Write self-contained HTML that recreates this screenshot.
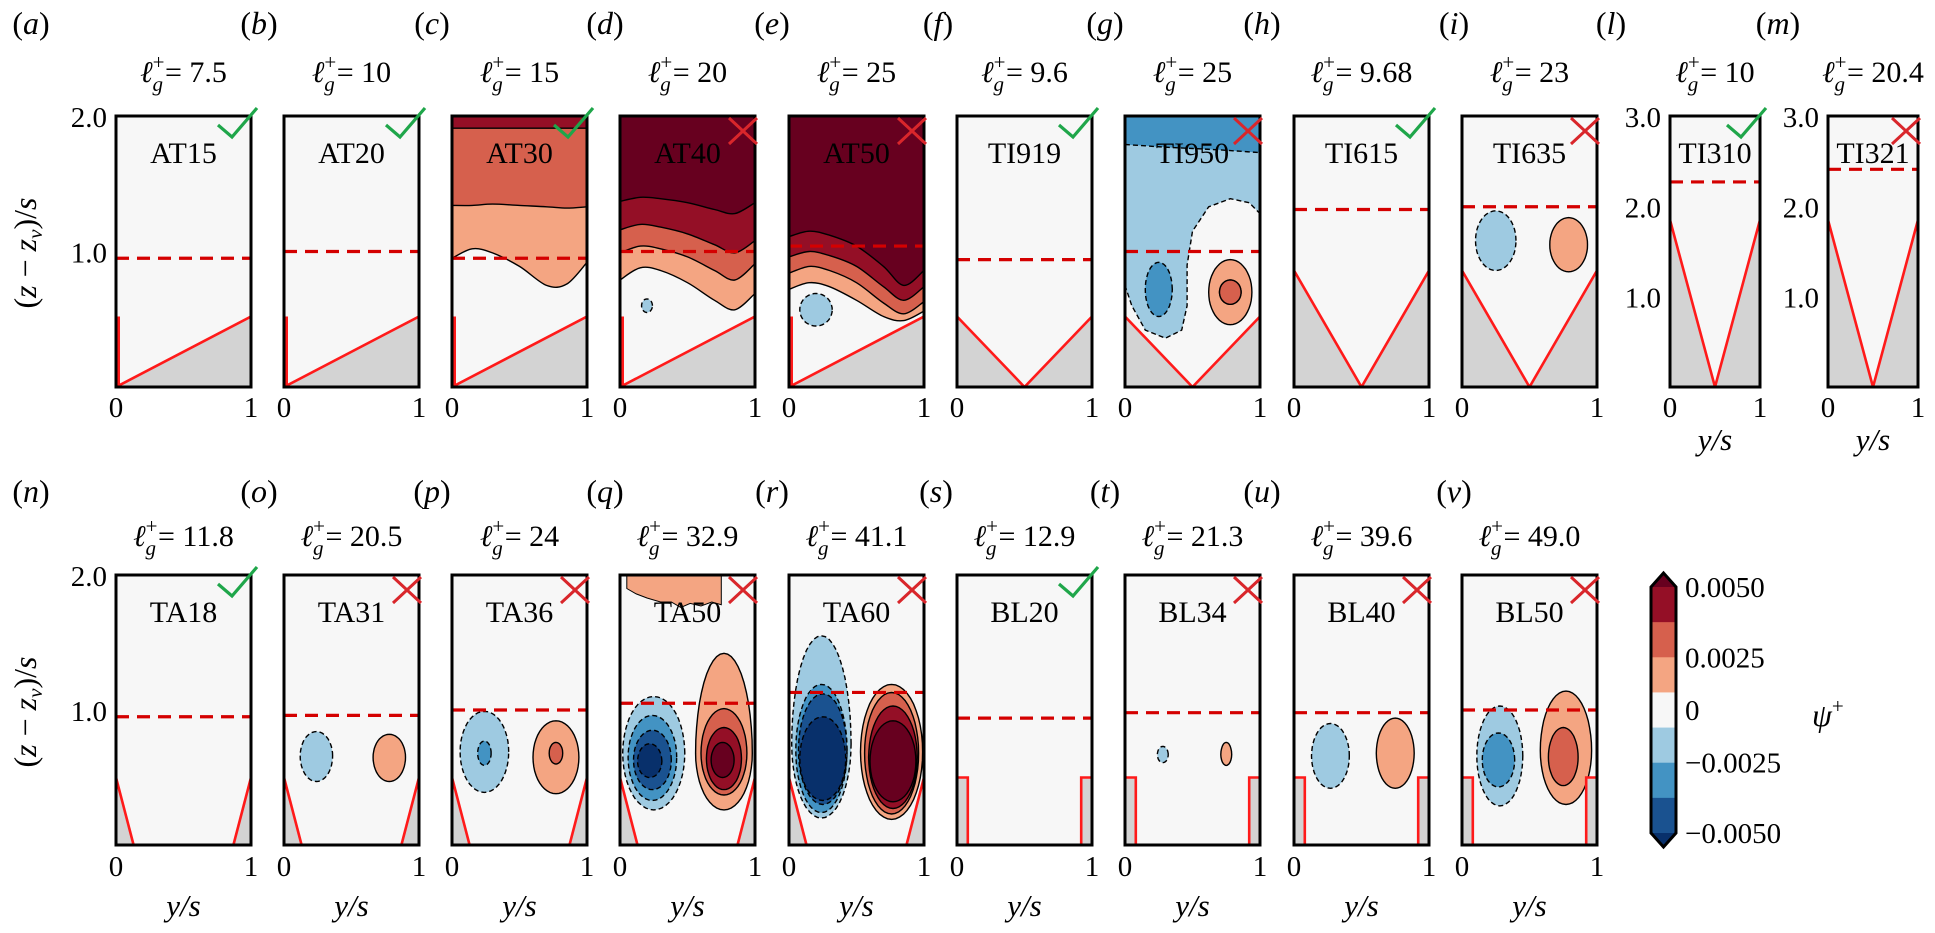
<!DOCTYPE html>
<html><head><meta charset="utf-8"><style>
html,body{margin:0;padding:0;background:#fff;}
svg, svg text, svg tspan{font-family:"Liberation Serif","Times New Roman","DejaVu Serif",serif;}
</style></head><body>
<svg id="fig" xmlns="http://www.w3.org/2000/svg" width="1935" height="928" viewBox="0 0 1935 928" font-family="Liberation Serif, serif"></svg>
<script>
// ---------- data ----------
const panelNames = ['AT15','AT20','AT30','AT40','AT50','TI919','TI950','TI615','TI635','TI310','TI321','TA18','TA31','TA36','TA50','TA60','BL20','BL34','BL40','BL50'];
const panelLetters = ['a','b','c','d','e','f','g','h','i','l','m','n','o','p','q','r','s','t','u','v'];
const lgValues = ['7.5','10','15','20','25','9.6','25','9.68','23','10','20.4','11.8','20.5','24','32.9','41.1','12.9','21.3','39.6','49.0'];
const verdicts = [1,1,1,0,0,1,0,1,0,1,0,1,0,0,0,0,1,0,0,0];
const dashLevels = [0.95,1.0,0.95,1.0,1.04,0.94,1.0,1.31,1.33,2.27,2.41,0.95,0.96,1.0,1.05,1.13,0.94,0.98,0.98,1.0];
const yMaxes = [2,2,2,2,2,2,2,2,2,3,3,2,2,2,2,2,2,2,2,2];
const yTicksMain = [1.0,2.0];
const yTicksTall = [1.0,2.0,3.0];
const geomTypes = ['AT','AT','AT','AT','AT','TI','TI','TI','TI','TI','TI','TA','TA','TA','TA','TA','BL','BL','BL','BL'];
const geomHeights = [0.52,0.52,0.52,0.52,0.52,0.52,0.52,0.86,0.86,1.85,1.85,0.5,0.5,0.5,0.5,0.5,0.5,0.5,0.5,0.5];
// wave-shaped contour bands (top-attached regions)
const waveX = [0,0.15,0.3,0.5,0.7,0.85,1];
const bandPanel = [2,2,2, 3,3,3,3, 4,4,4,4, 6];
const bandLevel = [1,2,3, 1,2,3,4, 1,2,3,4, -2];
const bandYs = [
 [0.95,1.02,0.99,0.89,0.75,0.76,0.92],
 [1.34,1.34,1.35,1.34,1.33,1.32,1.33],
 [1.91,1.91,1.91,1.91,1.91,1.91,1.91],
 [0.79,0.88,0.86,0.77,0.64,0.57,0.69],
 [0.99,1.04,1.02,0.96,0.86,0.79,0.91],
 [1.16,1.20,1.18,1.13,1.05,0.99,1.08],
 [1.37,1.40,1.39,1.36,1.31,1.28,1.36],
 [0.72,0.77,0.74,0.64,0.52,0.49,0.56],
 [0.84,0.89,0.86,0.77,0.62,0.54,0.63],
 [0.96,1.00,0.97,0.89,0.74,0.64,0.74],
 [1.11,1.15,1.12,1.04,0.89,0.75,0.86],
 [1.79,1.78,1.77,1.76,1.75,1.74,1.73]
];
// irregular light-blue region in TI950
const g950X = [0,1,1,0.92,0.78,0.62,0.5,0.46,0.46,0.42,0.3,0.15,0.05,0];
const g950Y = [2,2,1.28,1.36,1.39,1.33,1.15,0.9,0.6,0.42,0.36,0.42,0.6,0.75];
// noisy orange region at top of TA50
const q50X = [0.05,0.75,0.75,0.68,0.6,0.52,0.45,0.38,0.3,0.2,0.12,0.05];
const q50Y = [2,2,1.78,1.8,1.77,1.79,1.76,1.8,1.8,1.83,1.86,1.9];
// closed vortex blobs
const blobPanel = [3,4,6,6,6,6,8,8,12,12,13,13,13,13,14,14,14,14,14,14,14,14,15,15,15,15,15,15,15,15,17,17,18,18,19,19,19,19];
const blobLevel = [-1,-1,-2,1,2,2,-1,1,-1,1,-1,-2,1,2,-1,-2,-3,-4,1,2,3,4,-1,-2,-3,-4,1,2,3,4,-1,1,-1,1,-1,-2,1,2];
const blobCx = [0.2,0.2,0.25,0.78,0.78,0.78,0.25,0.79,0.24,0.78,0.24,0.24,0.77,0.77,0.25,0.24,0.24,0.22,0.77,0.77,0.77,0.76,0.24,0.24,0.25,0.25,0.76,0.76,0.77,0.77,0.28,0.75,0.27,0.75,0.28,0.27,0.77,0.75];
const blobCy = [0.6,0.57,0.72,0.7,0.7,0.7,1.08,1.05,0.66,0.65,0.69,0.68,0.65,0.68,0.68,0.65,0.63,0.62,0.68,0.68,0.64,0.63,0.75,0.7,0.7,0.64,0.69,0.68,0.65,0.62,0.67,0.67,0.66,0.68,0.66,0.63,0.7,0.65];
const blobRx = [0.04,0.12,0.1,0.16,0.08,0.08,0.15,0.14,0.12,0.12,0.18,0.05,0.17,0.05,0.23,0.18,0.14,0.09,0.21,0.17,0.13,0.085,0.22,0.19,0.18,0.17,0.23,0.2,0.18,0.17,0.04,0.04,0.14,0.14,0.17,0.12,0.19,0.11];
const blobRyT = [0.05,0.12,0.2,0.24,0.09,0.09,0.22,0.2,0.18,0.17,0.3,0.09,0.27,0.08,0.42,0.31,0.22,0.13,0.74,0.33,0.23,0.13,0.8,0.49,0.42,0.31,0.5,0.45,0.38,0.3,0.06,0.09,0.24,0.26,0.37,0.2,0.44,0.22];
const blobRyB = [0.05,0.12,0.2,0.24,0.09,0.09,0.22,0.2,0.19,0.18,0.3,0.09,0.27,0.08,0.42,0.32,0.22,0.12,0.42,0.31,0.23,0.13,0.55,0.46,0.4,0.31,0.5,0.45,0.38,0.3,0.06,0.08,0.24,0.26,0.37,0.2,0.4,0.21];
// colorbar
const cbColors = ['#940f26','#d6604d','#f4a582','#f7f7f7','#9ecae1','#4393c3','#1a5290'];
const cbTickLabels = ['0.0050','0.0025','0','\u22120.0025','\u22120.0050'];
const cbTickPos = [0,2,3.5,5,7];

// ---------- layout ----------
const lefts = [116,284,452,620,789,957,1125,1294,1462,1670,1828,116,284,452,620,789,957,1125,1294,1462];
const widths = lefts.map((_,i)=> (i===9||i===10)?90:135);
const tops = lefts.map((_,i)=> i<11?116:575);
const bottoms = lefts.map((_,i)=> i<11?387:845);
const letterX = [31,259,432,605,772,938,1105,1262,1454,1611,1778,31,259,432,605,772,936,1105,1262,1454];
const posColors = ['#f4a582','#d6604d','#940f26','#67001f'];
const negColors = ['#9ecae1','#4393c3','#1a5290','#08306b'];
const NS='http://www.w3.org/2000/svg';
const FONT='"Liberation Serif","Times New Roman",serif';
const svg=document.getElementById('fig');
function mk(tag,attrs,parent){const e=document.createElementNS(NS,tag);for(const k in attrs)e.setAttribute(k,attrs[k]);if(tag==='text')e.style.fontFamily=FONT;(parent||svg).appendChild(e);return e;}
function px(i,x){return lefts[i]+x*widths[i];}
function py(i,y){return bottoms[i]-y/yMaxes[i]*(bottoms[i]-tops[i]);}
function lvColor(l){return l>0?posColors[l-1]:negColors[-l-1];}
function ptsStr(i,xs,ys){return xs.map((x,k)=>px(i,x).toFixed(1)+','+py(i,ys[k]).toFixed(1)).join(' ');}
function smoothPath(i,xs,ys){ // catmull-rom through points
  const P=xs.map((x,k)=>[px(i,x),py(i,ys[k])]);let d='M'+P[0][0].toFixed(1)+' '+P[0][1].toFixed(1);
  for(let k=0;k<P.length-1;k++){const p0=P[Math.max(k-1,0)],p1=P[k],p2=P[k+1],p3=P[Math.min(k+2,P.length-1)];
    const c1=[p1[0]+(p2[0]-p0[0])/6,p1[1]+(p2[1]-p0[1])/6],c2=[p2[0]-(p3[0]-p1[0])/6,p2[1]-(p3[1]-p1[1])/6];
    d+='C'+c1[0].toFixed(1)+' '+c1[1].toFixed(1)+' '+c2[0].toFixed(1)+' '+c2[1].toFixed(1)+' '+p2[0].toFixed(1)+' '+p2[1].toFixed(1);}
  return d;}

for(let i=0;i<panelNames.length;i++){
  const L=lefts[i],W=widths[i],T=tops[i],B=bottoms[i],R=L+W;
  const g=mk('g',{});
  
  
  const cp=mk('clipPath',{id:'cp'+i},g);
  mk('rect',{x:L,y:T,width:W,height:B-T},cp);
  const inner=mk('g',{'clip-path':'url(#cp'+i+')'},g);
  const bg=mk('rect',{x:L,y:T,width:W,height:B-T,fill:'#f7f7f7'},inner);
  
  
  const bIdx=[];for(let k=0;k<bandPanel.length;k++)if(bandPanel[k]===i)bIdx.push(k);
  bIdx.sort((a,b)=>Math.abs(bandLevel[a])-Math.abs(bandLevel[b]));
  for(const k of bIdx){
    if(i===6){
      const sh=mk('polygon',{points:ptsStr(i,g950X,g950Y),fill:'#9ecae1',stroke:'#000','stroke-width':1.4,'stroke-dasharray':'5 3','stroke-linejoin':'round'},inner);
      
      
    }
    const curve=smoothPath(i,waveX,bandYs[k]);
    const top=py(i,yMaxes[i]);
    const p=mk('path',{d:curve+'L'+R+' '+top+'L'+L+' '+top+'Z',fill:lvColor(bandLevel[k])},inner);
    
    
    const ln=mk('path',{d:curve,fill:'none',stroke:'#000','stroke-width':1.4,'stroke-dasharray':bandLevel[k]<0?'5 3':'none'},inner);
    
    
  }
  if(i===14){
    const q=mk('polygon',{points:ptsStr(i,q50X,q50Y),fill:'#f4a582',stroke:'#000','stroke-width':1},inner);
    
    
  }
  for(let k=0;k<blobPanel.length;k++){
    if(blobPanel[k]!==i)continue;
    let d='';
    for(let s=0;s<=48;s++){const t=s/48*2*Math.PI;const sn=Math.sin(t);
      const x=blobCx[k]+blobRx[k]*Math.cos(t);const y=blobCy[k]+(sn>0?blobRyT[k]:blobRyB[k])*sn;
      d+=(s?'L':'M')+px(i,x).toFixed(1)+' '+py(i,y).toFixed(1);}
    const b=mk('path',{d:d+'Z',fill:lvColor(blobLevel[k]),stroke:'#000','stroke-width':1.4,'stroke-dasharray':blobLevel[k]<0?'5 3':'none'},inner);
    
    
  }
  const h=geomHeights[i],gt=geomTypes[i];
  let grays=[],reds=[];
  if(gt==='AT'){grays=[[[0,1,1],[0,0,h]]];reds=[[[0,1],[0,h]],[[0.02,0.02],[0,h]]];}
  else if(gt==='TI'){grays=[[[0,0.5,0],[0,0,h]],[[0.5,1,1],[0,0,h]]];reds=[[[0,0.5,1],[h,0,h]]];}
  else if(gt==='TA'){grays=[[[0,0.13,0],[0,0,h]],[[0.87,1,1],[0,0,h]]];reds=[[[0,0.13],[h,0]],[[0.87,1],[0,h]]];}
  else {grays=[[[0,0.08,0.08,0],[0,0,h,h]],[[0.92,1,1,0.92],[0,0,h,h]]];reds=[[[0,0.08,0.08],[h,h,0]],[[1,0.92,0.92],[h,h,0]]];}
  for(const gp of grays){const e=mk('polygon',{points:ptsStr(i,gp[0],gp[1]),fill:'#d3d3d3'},inner);
    
    }
  for(const rp of reds){const e=mk('polyline',{points:ptsStr(i,rp[0],rp[1]),fill:'none',stroke:'#ff1a1a','stroke-width':2.6},inner);
    
    }
  const dl=mk('line',{x1:L,x2:R,y1:py(i,dashLevels[i]),y2:py(i,dashLevels[i]),stroke:'#d40000','stroke-width':3.2,'stroke-dasharray':'13 8'},inner);
  
  
  const nt=mk('text',{x:(L+R)/2,y:T+47,'text-anchor':'middle','font-size':30},g);
  nt.textContent=panelNames[i];
  
  
  const fr=mk('rect',{x:L,y:T,width:W,height:B-T,fill:'none',stroke:'#000','stroke-width':3},g);
  
  
  if(verdicts[i]){const c=mk('polyline',{points:(R-33)+','+(T+9)+' '+(R-19)+','+(T+21)+' '+(R+6)+','+(T-8),fill:'none',stroke:'#1fa64a','stroke-width':3.2},g);
    
    }
  else{const c=mk('path',{d:'M'+(R-26)+' '+(T+2)+'L'+(R+2)+' '+(T+28)+'M'+(R-26)+' '+(T+28)+'L'+(R+2)+' '+(T+2),fill:'none',stroke:'#d9262b','stroke-width':3},g);
    
    }
  const top=i<11;
  const lt=mk('text',{x:letterX[i],y:top?34:502,'text-anchor':'middle','font-size':32},g);
  lt.innerHTML='(<tspan font-style="italic">'+panelLetters[i]+'</tspan>)';
  
  
  const tb=top?82:546;
  const tt=mk('text',{x:(L+R)/2,y:tb,'text-anchor':'middle','font-size':30},g);
  tt.innerHTML='<tspan font-style="italic">\u2113</tspan><tspan font-size="21" dy="-13">+</tspan><tspan font-size="21" font-style="italic" dx="-12" dy="22">g</tspan><tspan dy="-9" dx="2">= '+lgValues[i]+'</tspan>';
  
  
  const xb=top?417:876;
  for(const v of [0,1]){const xt=mk('text',{x:px(i,v),y:xb,'text-anchor':'middle','font-size':29},g);
    xt.textContent=String(v);
    
    }
  if(!top||i===9||i===10){const xl=mk('text',{x:(L+R)/2,y:top?450:916,'text-anchor':'middle','font-size':31,'font-style':'italic'},g);
    xl.textContent='y/s';
    
    }
  if(i===0||i===11||i===9||i===10){
    const ticks=(i===9||i===10)?yTicksTall:yTicksMain;
    for(const v of ticks){const yt=mk('text',{x:L-9,y:py(i,v)+11,'text-anchor':'end','font-size':29},g);
      yt.textContent=v.toFixed(1);
      
      }
  }
}
for(const cy of [253,712]){
  const yl=mk('text',{x:0,y:0,'text-anchor':'middle','font-size':32,transform:'translate(36,'+cy+') rotate(-90)'});
  yl.innerHTML='(<tspan font-style="italic">z</tspan> \u2212 <tspan font-style="italic">z</tspan><tspan font-style="italic" font-size="21" dy="6">v</tspan><tspan dy="-6">)/</tspan><tspan font-style="italic">s</tspan>';
  
  
}
const cbX=1651,cbW=25,cbTop=587,cbBot=833,cbStep=(cbBot-cbTop)/cbColors.length;
const cb=mk('g',{});


cbColors.forEach((c,k)=>{const r=mk('rect',{x:cbX,y:cbTop+k*cbStep,width:cbW,height:cbStep+0.5,fill:c},cb);
  
  });
const t1=mk('polygon',{points:cbX+','+cbTop+' '+(cbX+cbW/2)+','+(cbTop-14)+' '+(cbX+cbW)+','+cbTop,fill:'#67001f'},cb);


const t2=mk('polygon',{points:cbX+','+cbBot+' '+(cbX+cbW/2)+','+(cbBot+14)+' '+(cbX+cbW)+','+cbBot,fill:'#08306b'},cb);


const cbo=mk('polygon',{points:cbX+','+cbTop+' '+(cbX+cbW/2)+','+(cbTop-14)+' '+(cbX+cbW)+','+cbTop+' '+(cbX+cbW)+','+cbBot+' '+(cbX+cbW/2)+','+(cbBot+14)+' '+cbX+','+cbBot,fill:'none',stroke:'#000','stroke-width':3},cb);


cbTickLabels.forEach((s,k)=>{const t=mk('text',{x:1685,y:cbTop+cbTickPos[k]*cbStep+10,'font-size':29},cb);
  t.textContent=s;
  
  });
const psi=mk('text',{x:1812,y:726,'font-size':32,'font-style':'italic'},cb);
psi.innerHTML='\u03C8<tspan font-size="21" dy="-13" font-style="normal">+</tspan>';


</script>
</body></html>
